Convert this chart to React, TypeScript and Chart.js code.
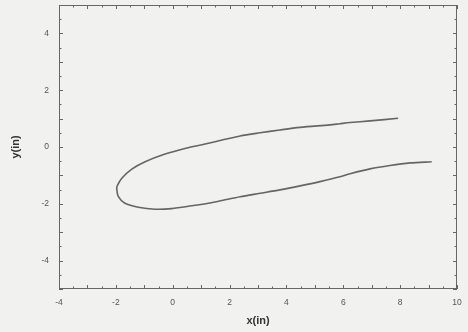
import React, { useEffect, useRef } from "react";
import { Chart, registerables } from "chart.js";

Chart.register(...registerables);

// Airfoil contour: upper surface from trailing edge to leading edge, then lower surface back out
const curveX = [7.93, 6.94, 6.24, 5.88, 5.53, 4.48, 3.77, 3.07, 2.37, 1.84, 1.14, 0.43, -0.27, -0.97, -1.44, -1.79, -1.94, -1.97, -1.91, -1.68, -1.21, -0.62, -0.04, 0.67, 1.37, 1.84, 2.37, 3.07, 3.77, 4.48, 5.18, 5.88, 6.24, 6.94, 7.64, 8.35, 9.11];
const curveY = [1.01, 0.92, 0.86, 0.82, 0.78, 0.69, 0.6, 0.5, 0.39, 0.27, 0.105, -0.05, -0.25, -0.52, -0.78, -1.1, -1.34, -1.45, -1.75, -1.98, -2.12, -2.19, -2.17, -2.07, -1.96, -1.86, -1.75, -1.63, -1.51, -1.37, -1.22, -1.05, -0.94, -0.77, -0.65, -0.56, -0.52];

const xMin = -4;
const xMax = 10;
const yMin = -5;
const yMax = 5;
const tickStep = 0.5;
const labelStep = 2;
const xTitle = "x(in)";
const yTitle = "y(in)";

const frameTicks = {
  id: "frameTicks",
  afterDraw(chart: any) {
    const { ctx, chartArea: a, scales } = chart;
    ctx.save();
    ctx.strokeStyle = "#666";
    ctx.lineWidth = 1;
    ctx.strokeRect(a.left + 0.5, a.top + 0.5, a.right - a.left - 1, a.bottom - a.top - 1);
    ctx.beginPath();
    scales.x.ticks.forEach((t: any) => {
      const px = Math.round(scales.x.getPixelForValue(t.value)) + 0.5;
      const len = Math.abs(t.value - Math.round(t.value)) < 1e-6 ? 4 : 2.5;
      ctx.moveTo(px, a.bottom);
      ctx.lineTo(px, a.bottom - len);
      ctx.moveTo(px, a.top);
      ctx.lineTo(px, a.top + len);
    });
    scales.y.ticks.forEach((t: any) => {
      const py = Math.round(scales.y.getPixelForValue(t.value)) + 0.5;
      const len = Math.abs(t.value - Math.round(t.value)) < 1e-6 ? 4 : 2.5;
      ctx.moveTo(a.left, py);
      ctx.lineTo(a.left + len, py);
      ctx.moveTo(a.right, py);
      ctx.lineTo(a.right - len, py);
    });
    ctx.stroke();
    ctx.restore();
  },
};

const labelCb = (v: any) => {
  const n = Number(v);
  return Math.abs(n / labelStep - Math.round(n / labelStep)) < 1e-6 ? String(n) : "";
};

export default function App() {
  const ref = useRef<HTMLCanvasElement | null>(null);
  useEffect(() => {
    if (!ref.current) return;
    const points = curveX.map((x, i) => ({ x, y: curveY[i] }));
    const chart = new Chart(ref.current, {
      type: "scatter",
      data: {
        datasets: [
          {
            data: points,
            showLine: true,
            borderColor: "#656565",
            borderWidth: 1.6,
            pointRadius: 0,
            tension: 0.3,
            fill: false,
          },
        ],
      },
      options: {
        animation: false,
        responsive: false,
        maintainAspectRatio: false,
        layout: { padding: { left: 0, right: 11, top: 5, bottom: 0 } },
        plugins: { legend: { display: false }, tooltip: { enabled: false } },
        scales: {
          x: {
            type: "linear",
            min: xMin,
            max: xMax,
            afterFit: (s: any) => {
              s.height = 43;
              s.paddingLeft = 0;
              s.paddingRight = 0;
            },
            grid: { display: false, drawTicks: false },
            border: { display: false },
            ticks: {
              stepSize: tickStep,
              autoSkip: false,
              maxRotation: 0,
              padding: 9,
              color: "#555",
              font: { family: "Liberation Sans", size: 8.5 },
              callback: labelCb,
            },
            title: {
              display: true,
              text: xTitle,
              color: "#333",
              font: { family: "Liberation Sans", size: 11, weight: "bold" },
              padding: { top: 0, bottom: 4 },
            },
          },
          y: {
            type: "linear",
            min: yMin,
            max: yMax,
            afterFit: (s: any) => {
              s.width = 59;
              s.paddingTop = 0;
              s.paddingBottom = 0;
            },
            grid: { display: false, drawTicks: false },
            border: { display: false },
            ticks: {
              stepSize: tickStep,
              autoSkip: false,
              padding: 10,
              color: "#555",
              font: { family: "Liberation Sans", size: 8.5 },
              callback: labelCb,
            },
            title: {
              display: true,
              text: yTitle,
              color: "#333",
              font: { family: "Liberation Sans", size: 11, weight: "bold" },
              padding: { top: 9, bottom: 0 },
            },
          },
        },
      },
      plugins: [frameTicks],
    } as any);
    return () => chart.destroy();
  }, []);
  return (
    <div
      style={{
        position: "fixed",
        left: 0,
        top: 0,
        width: 468,
        height: 332,
        background: "#f1f1ef",
      }}
    >
      <canvas ref={ref} width={468} height={332} style={{ display: "block" }} />
    </div>
  );
}
